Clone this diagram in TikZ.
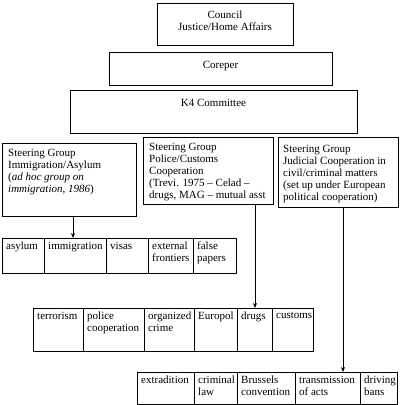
\documentclass[tikz,border=0pt]{standalone}
\usepackage{fontspec}
\setmainfont{Liberation Serif}
\usetikzlibrary{arrows.meta, positioning}

\tikzset{
  box/.style={draw, line width=0.75pt, anchor=north west, inner sep=0pt, outer sep=0pt},
  cell/.style={box, minimum height=#1},
  txt/.style={anchor=north west, align=left, inner sep=0pt,
              font=\fontsize{11}{12}\selectfont, xshift=4pt, yshift=-4pt},
  ttl/.style={anchor=north, align=center, inner sep=0pt,
              font=\fontsize{11}{12}\selectfont, yshift=-9pt},
  arr/.style={-{Stealth[length=5pt,width=4pt]}, line width=0.75pt}
}

\begin{document}
\begin{tikzpicture}[x=1pt,y=-1pt]
\useasboundingbox (0,0) rectangle (400,405);

% council, coreper, K4
\node[box, minimum width=136, minimum height=42] (council) at (157,3) {};
\node[ttl, yshift=1pt] (councilt) at (council.north) {Council\\Justice/Home Affairs};
\node[box, minimum width=223, minimum height=33] (coreper) at (109,52) {};
\node[ttl] (corepert) at (coreper.north) {Coreper};
\node[box, minimum width=287, minimum height=43] (kfour) at (70,90) {};
\node[ttl] (kfourt) at (kfour.north) {K4 Committee};

% steering groups
\node[box, minimum width=134, minimum height=73] (sg1) at (2,143) {};
\node[txt, xshift=2pt, yshift=-2pt] (sg1t) at (sg1.north west)
  {Steering Group\\Immigration/Asylum\\(\textit{ad hoc group on}\\\textit{immigration, 1986})};
\node[box, minimum width=130, minimum height=67] (sg2) at (143,137) {};
\node[txt, xshift=2pt, yshift=-2pt] (sg2t) at (sg2.north west)
  {Steering Group\\Police/Customs\\Cooperation\\(Trevi. 1975 -- Celad --\\drugs, MAG -- mutual asst};
\node[box, minimum width=120, minimum height=70] (sg3) at (278,137) {};
\node[txt, xshift=1pt, yshift=-4pt] (sg3t) at (sg3.north west)
  {Steering Group\\Judicial Cooperation in\\civil/criminal matters\\(set up under European\\political cooperation)};

% immigration row
\node[cell=35, minimum width=42] (a1) at (2,238) {};
\node[cell=35, minimum width=62, right=0pt of a1] (a2) {};
\node[cell=35, minimum width=42, right=0pt of a2] (a3) {};
\node[cell=35, minimum width=45, right=0pt of a3] (a4) {};
\node[cell=35, minimum width=43, right=0pt of a4] (a5) {};
\node[txt] (a1t) at (a1.north west) {asylum};
\node[txt] (a2t) at (a2.north west) {immigration};
\node[txt] (a3t) at (a3.north west) {visas};
\node[txt] (a4t) at (a4.north west) {external\\frontiers};
\node[txt] (a5t) at (a5.north west) {false\\papers};

% police row
\node[cell=43, minimum width=50] (b1) at (33,308) {};
\node[cell=43, minimum width=61, right=0pt of b1] (b2) {};
\node[cell=43, minimum width=50, right=0pt of b2] (b3) {};
\node[cell=43, minimum width=43, right=0pt of b3] (b4) {};
\node[cell=43, minimum width=35, right=0pt of b4] (b5) {};
\node[cell=43, minimum width=41, right=0pt of b5] (b6) {};
\node[txt] (b1t) at (b1.north west) {terrorism};
\node[txt] (b2t) at (b2.north west) {police\\cooperation};
\node[txt] (b3t) at (b3.north west) {organized\\crime};
\node[txt] (b4t) at (b4.north west) {Europol};
\node[txt] (b5t) at (b5.north west) {drugs};
\node[txt] (b6t) at (b6.north west) {customs};

% judicial row
\node[cell=32, minimum width=57] (c1) at (137,372) {};
\node[cell=32, minimum width=43, right=0pt of c1] (c2) {};
\node[cell=32, minimum width=58, right=0pt of c2] (c3) {};
\node[cell=32, minimum width=65, right=0pt of c3] (c4) {};
\node[cell=32, minimum width=37, right=0pt of c4] (c5) {};
\node[txt] (c1t) at (c1.north west) {extradition};
\node[txt] (c2t) at (c2.north west) {criminal\\law};
\node[txt] (c3t) at (c3.north west) {Brussels\\convention};
\node[txt] (c4t) at (c4.north west) {transmission\\of acts};
\node[txt] (c5t) at (c5.north west) {driving\\bans};

% arrows down to the rows
\coordinate (d1) at ([xshift=4pt]sg1.south);
\coordinate (d2) at ([xshift=-18pt]sg2.south east);
\coordinate (d3) at ([xshift=5pt]sg3.south);
\draw[arr] (d1) -- (d1 |- a2.north);
\draw[arr] (d2) -- (d2 |- b5.north);
\draw[arr] (d3) -- (d3 |- c4.north);
\end{tikzpicture}
\end{document}
